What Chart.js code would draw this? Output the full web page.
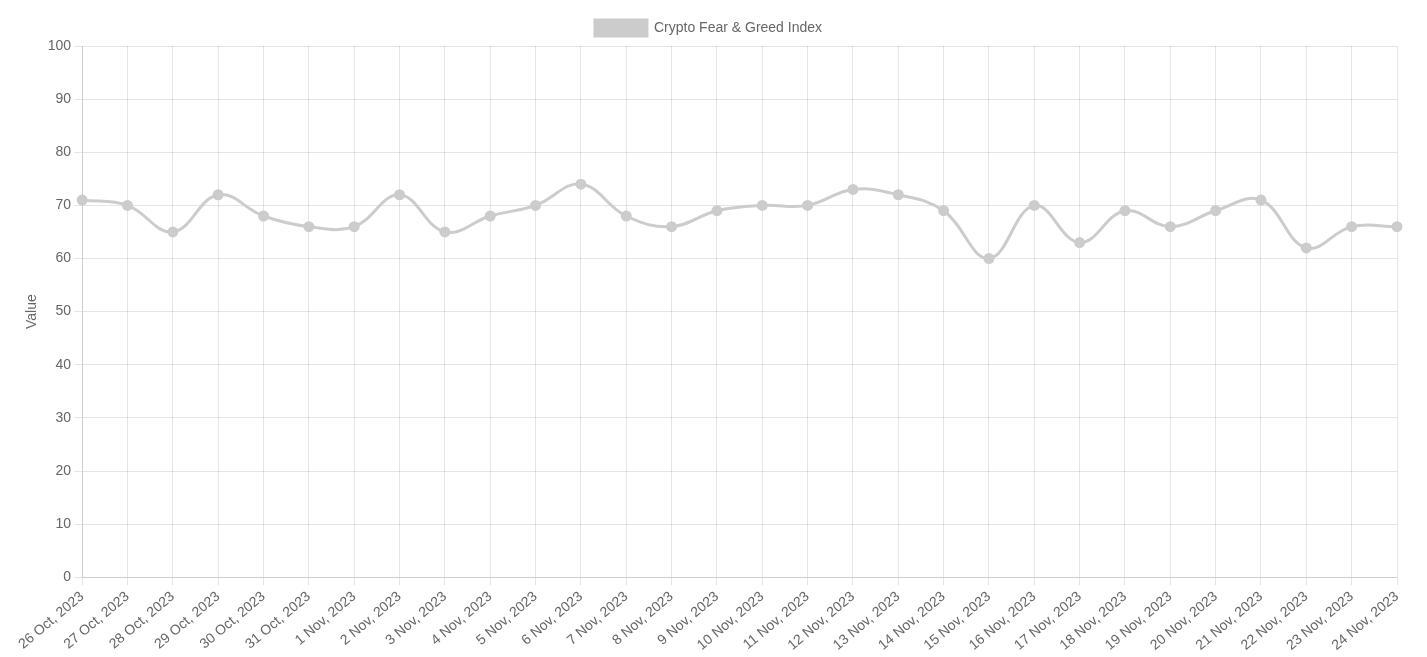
<!DOCTYPE html>
<html><head><script src="https://cdn.jsdelivr.net/npm/chart.js"></script>
<style>body{margin:0;background:#fff}#w{width:1427px;height:657px}</style></head>
<body><div id="w"><canvas id="c"></canvas></div>
<script>
const labels=["26 Oct, 2023","27 Oct, 2023","28 Oct, 2023","29 Oct, 2023","30 Oct, 2023","31 Oct, 2023","1 Nov, 2023","2 Nov, 2023","3 Nov, 2023","4 Nov, 2023","5 Nov, 2023","6 Nov, 2023","7 Nov, 2023","8 Nov, 2023","9 Nov, 2023","10 Nov, 2023","11 Nov, 2023","12 Nov, 2023","13 Nov, 2023","14 Nov, 2023","15 Nov, 2023","16 Nov, 2023","17 Nov, 2023","18 Nov, 2023","19 Nov, 2023","20 Nov, 2023","21 Nov, 2023","22 Nov, 2023","23 Nov, 2023","24 Nov, 2023"];
const values=[71,70,65,72,68,66,66,72,65,68,70,74,68,66,69,70,70,73,72,69,60,70,63,69,66,69,71,62,66,66];
Chart.defaults.font.family="'Liberation Sans', Arial, sans-serif";
Chart.defaults.font.size=14;
Chart.defaults.color="#666";
new Chart(document.getElementById('c'),{type:'line',
data:{labels,datasets:[{label:'Crypto Fear & Greed Index',data:values,borderColor:'rgb(204,204,204)',backgroundColor:'rgb(204,204,204)',borderWidth:3,tension:0.4,pointRadius:4}]},
options:{responsive:true,maintainAspectRatio:false,animation:false,
layout:{padding:{right:30,left:20,top:10}},
plugins:{legend:{labels:{boxWidth:52,boxHeight:16}}},
scales:{x:{ticks:{maxRotation:40,minRotation:40,autoSkip:false}},
y:{min:0,max:100,ticks:{stepSize:10},title:{display:true,text:'Value'}}}}});
</script></body></html>
